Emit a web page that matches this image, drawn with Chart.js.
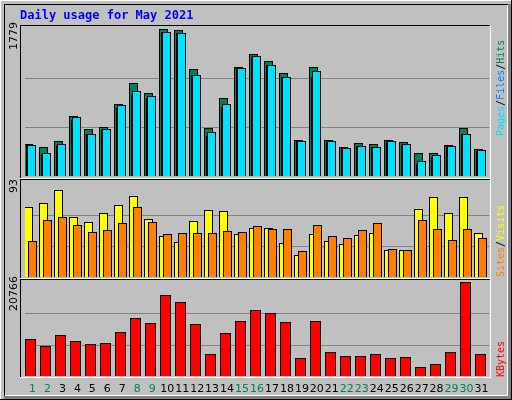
<!DOCTYPE html>
<html><head><meta charset="utf-8">
<script src="https://cdn.jsdelivr.net/npm/chart.js@4"></script>
<style>body{margin:0;background:#fff}#wrap{position:relative;width:512px;height:400px}canvas{position:absolute}</style>
</head><body><div id="wrap"><canvas id="bg" width="512" height="400" style="left:0;top:0"></canvas>
<canvas id="c1" width="464" height="147" style="left:25px;top:29px"></canvas>
<canvas id="c2" width="464" height="93" style="left:25px;top:184px"></canvas>
<canvas id="c3" width="464" height="94" style="left:25px;top:282px"></canvas></div>
<script>
const days=Array.from({length:31},(_,i)=>String(i+1));
const weekend=[1,2,8,9,15,16,22,23,29,30];
const hits=[385,349,421,721,565,589,877,1130,1010,1779,1767,1298,577,938,1322,1478,1394,1250,433,1322,433,349,397,385,433,409,276,276,373,577,325];
const files=[373,264,373,673,505,553,817,986,950,1743,1731,1226,481,829,1310,1442,1346,1202,421,1202,409,337,361,349,409,373,144,228,361,505,301];
const pages=[373,276,385,709,505,565,865,1034,974,1743,1731,1226,529,877,1310,1454,1346,1202,421,1274,421,337,361,349,421,385,180,252,361,505,313];
const visits=[70,74.5,86.7,60.4,54.8,64,71.7,81,57.6,40.7,35,55.7,67,66,42.6,49,49,34,21.9,43.5,36,33.2,41.6,44.4,27.5,26.6,67.9,80,64,80,44.4];
const sites=[36,56.7,60.4,52,45.4,47.3,53.8,69.8,54.8,43.5,44.4,44.4,44.4,46.3,45.4,51,48.2,48.2,25.7,52,40.7,38.8,47.3,53.8,28.5,26.6,56.7,48.2,37,48.2,38.8];
const kbytes=[8150,6660,9000,7730,7090,7300,9640,12830,11770,17940,16450,11560,4750,9430,12190,14530,13900,11980,3900,12190,5390,4320,4320,4750,3900,4110,1990,2620,5390,20766,4750];
const maxHits=1779,maxVisits=93,maxK=20766;

const g=document.getElementById('bg').getContext('2d');
g.fillStyle='#c0c0c0';g.fillRect(0,0,512,400);
g.fillStyle='#fff';g.fillRect(0,0,512,1);g.fillRect(0,0,1,400);
g.fillStyle='#000';g.fillRect(0,399,512,1);g.fillRect(511,0,1,400);
g.fillStyle='#808080';g.fillRect(508,4,3,395);g.fillRect(4,396,507,3);
g.fillStyle='#000';g.fillRect(4,4,504,1);g.fillRect(4,4,1,392);
g.fillStyle='#fff';g.fillRect(5,395,503,1);g.fillRect(507,5,1,390);
function panel(t,b){g.fillStyle='#000';g.fillRect(20,t,471,1);g.fillRect(20,t,1,b-t);
 g.fillStyle='#fff';g.fillRect(20,b,471,1);g.fillRect(490,t,1,b-t+1);}
panel(25,178);panel(179,278);panel(279,377);
g.fillStyle='#0000ff';g.font='bold 12px "DejaVu Sans Mono"';g.textBaseline='alphabetic';
g.fillText('Daily usage for May 2021',20,19);
function vtext(parts,x,y,font){g.save();g.translate(x,y);g.rotate(-Math.PI/2);g.font=font;let px=0;
 for(const [t,c] of parts){g.fillStyle=c;g.fillText(t,px,0);px+=g.measureText(t).width;}g.restore();}
g.textBaseline='middle';
vtext([['1779','#000']],14,50,'11px "DejaVu Sans"');
vtext([['93','#000']],14,193,'11px "DejaVu Sans"');
vtext([['20766','#000']],14,311,'11px "DejaVu Sans"');
vtext([['Pages','#00e0ff'],['/','#000'],['Files','#0080ff'],['/','#000'],['Hits','#00805c']],501,136,'10px "DejaVu Sans Mono"');
vtext([['Sites','#ff8000'],['/','#000'],['Visits','#ffff00']],501,277,'10px "DejaVu Sans Mono"');
vtext([['KBytes','#ff0000']],501,377,'10px "DejaVu Sans Mono"');

function barsPlugin(specs){return{id:'wb',afterDatasetsDraw(ch){
 const c=ch.ctx,x=ch.scales.x,y=ch.scales.y;c.save();
 specs.forEach((s,di)=>{const d=ch.data.datasets[di].data;
  d.forEach((v,i)=>{const cx=Math.round(x.getPixelForValue(i));const top=Math.round(y.getPixelForValue(v));const bot=Math.round(y.getPixelForValue(0));
   c.fillStyle='#000';c.fillRect(cx+s.o,top,s.w,bot-top);c.fillStyle=s.col;c.fillRect(cx+s.o+1,top+1,s.w-2,bot-top-1);});});
 c.restore();}};}
function grid(max){return{id:'gr',beforeDatasetsDraw(ch){const c=ch.ctx,y=ch.scales.y;c.fillStyle='#808080';
 [max/3,2*max/3].forEach(v=>c.fillRect(0,Math.round(y.getPixelForValue(v)),ch.width,1));}};}
function mk(id,sets,max,specs){
 return new Chart(document.getElementById(id),{type:'bar',data:{labels:days,datasets:sets.map(d=>({data:d,backgroundColor:'rgba(0,0,0,0)'}))},
  options:{responsive:false,animation:false,devicePixelRatio:1,layout:{padding:0},
   plugins:{legend:{display:false},tooltip:{enabled:false}},
   scales:{x:{display:false},y:{display:false,min:0,max:max}}},
  plugins:[grid(max),barsPlugin(specs)]});}
mk('c1',[hits,files,pages],maxHits,[{o:-8,w:9,col:'#00805c'},{o:-6,w:9,col:'#0040ff'},{o:-5,w:9,col:'#00e0ff'}]);
mk('c2',[visits,sites],maxVisits,[{o:-8,w:9,col:'#ffff00'},{o:-4,w:9,col:'#ff8000'}]);
const ch3=mk('c3',[kbytes],maxK,[{o:-7,w:11,col:'#ff0000'}]);
g.font='11px "DejaVu Sans"';g.textAlign='center';g.textBaseline='middle';
days.forEach((d,i)=>{g.fillStyle=weekend.includes(i+1)?'#00805c':'#000';g.fillText(d,25+ch3.scales.x.getPixelForValue(i),389);});
</script></body></html>
